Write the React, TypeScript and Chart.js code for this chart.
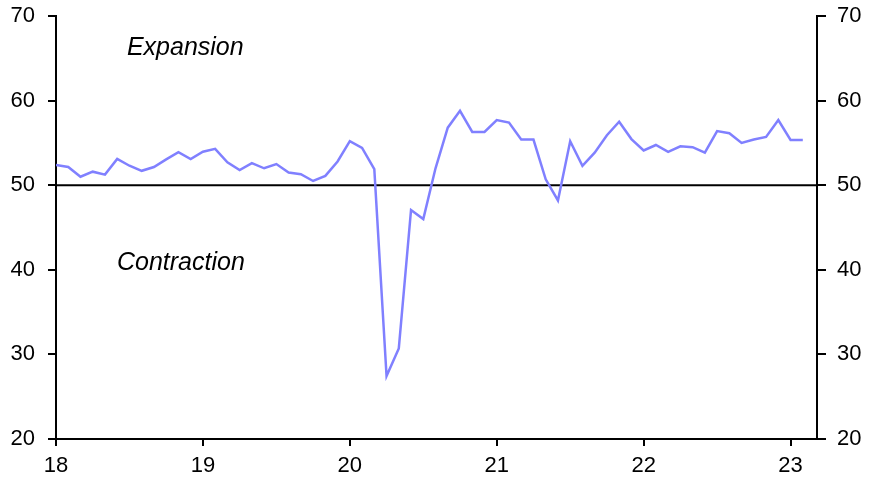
import React, { useEffect, useRef } from "react";
import { Chart, registerables } from "chart.js";

Chart.register(...registerables);

// Monthly series, Jan 2018 .. Feb 2023
const startYear = 18;
const values: number[] = [
  52.4, 52.15, 51.0, 51.6, 51.25, 53.1, 52.3, 51.7, 52.15, 53.05, 53.9, 53.1,
  53.95, 54.3, 52.7, 51.8, 52.6, 52.0, 52.5, 51.5, 51.3, 50.5, 51.1, 52.8,
  55.2, 54.4, 51.9, 27.45, 30.7, 47.07, 46.0, 52.0, 56.8, 58.8, 56.3, 56.3,
  57.7, 57.4, 55.4, 55.4, 50.7, 48.2, 55.2, 52.3, 53.85, 55.9, 57.5, 55.45,
  54.1, 54.75, 53.95, 54.6, 54.5, 53.85, 56.4, 56.15, 55.0, 55.4, 55.7, 57.7,
  55.35, 55.35,
];
const xTicks: number[] = [18, 19, 20, 21, 22, 23];
const yTicks: number[] = [20, 30, 40, 50, 60, 70];
const xMin = 18;
const xMax = 23.18;
const yMin = 20;
const yMax = 70;
const refLine = 50;
const annotations = [
  { text: "Expansion", x: 18.88, y: 66.2 },
  { text: "Contraction", x: 18.85, y: 40.8 },
];

const FONT = "'Liberation Sans', Arial, sans-serif";

export default function App() {
  const ref = useRef<HTMLCanvasElement | null>(null);

  useEffect(() => {
    const canvas = ref.current;
    if (!canvas) return;
    const points = values.map((v, i) => ({ x: startYear + i / 12, y: v }));

    const overlay = {
      id: "overlay",
      beforeDatasetsDraw(chart: any) {
        const { ctx, chartArea, scales } = chart;
        const y = scales.y.getPixelForValue(refLine);
        ctx.save();
        ctx.strokeStyle = "#000";
        ctx.lineWidth = 2;
        ctx.beginPath();
        ctx.moveTo(chartArea.left, y);
        ctx.lineTo(chartArea.right, y);
        ctx.stroke();
        ctx.restore();
      },
      afterDatasetsDraw(chart: any) {
        const { ctx, scales } = chart;
        ctx.save();
        ctx.fillStyle = "#000";
        ctx.font = `italic 25px ${FONT}`;
        ctx.textAlign = "center";
        ctx.textBaseline = "middle";
        for (const a of annotations) {
          ctx.fillText(a.text, scales.x.getPixelForValue(a.x), scales.y.getPixelForValue(a.y));
        }
        ctx.restore();
      },
    };

    const yAxisCommon = (position: "left" | "right", width: number, tickLength: number, padding: number) => ({
      type: "linear" as const,
      position,
      min: yMin,
      max: yMax,
      afterBuildTicks(scale: any) {
        scale.ticks = yTicks.map((v) => ({ value: v }));
      },
      afterFit(scale: any) {
        scale.width = width;
        scale.paddingTop = 0;
        scale.paddingBottom = 0;
      },
      grid: {
        drawOnChartArea: false,
        drawTicks: true,
        tickLength,
        color: "#000",
        lineWidth: 2,
      },
      border: { display: true, color: "#000", width: 2 },
      ticks: {
        color: "#000",
        font: { family: FONT, size: 22 },
        padding,
      },
    });

    const chart = new Chart(canvas, {
      type: "line",
      data: {
        datasets: [
          {
            data: points,
            borderColor: "#8080ff",
            borderWidth: 2.5,
            pointRadius: 0,
            tension: 0,
            fill: false,
          },
        ],
      },
      options: {
        animation: false,
        responsive: false,
        devicePixelRatio: 1,
        layout: { padding: { top: 16, left: 0, right: 0, bottom: 0 } },
        plugins: {
          legend: { display: false },
          tooltip: { enabled: false },
        },
        scales: {
          x: {
            type: "linear",
            min: xMin,
            max: xMax,
            afterBuildTicks(scale: any) {
              scale.ticks = xTicks.map((v) => ({ value: v }));
            },
            afterFit(scale: any) {
              scale.height = 42;
              scale.paddingLeft = 0;
              scale.paddingRight = 0;
            },
            grid: {
              drawOnChartArea: false,
              drawTicks: true,
              tickLength: 7,
              color: "#000",
              lineWidth: 2,
            },
            border: { display: true, color: "#000", width: 2 },
            ticks: {
              color: "#000",
              font: { family: FONT, size: 22 },
              padding: 7,
              maxRotation: 0,
              callback: (v: any) => String(v),
            },
          },
          y: yAxisCommon("left", 56, 8, 13),
          y2: yAxisCommon("right", 55, 9, 11),
        },
      } as any,
      plugins: [overlay],
    });
    return () => chart.destroy();
  }, []);

  return (
    <div style={{ position: "absolute", left: 0, top: 0, width: 872, height: 481, background: "#fff" }}>
      <canvas ref={ref} width={872} height={481} style={{ width: 872, height: 481, display: "block" }} />
    </div>
  );
}
